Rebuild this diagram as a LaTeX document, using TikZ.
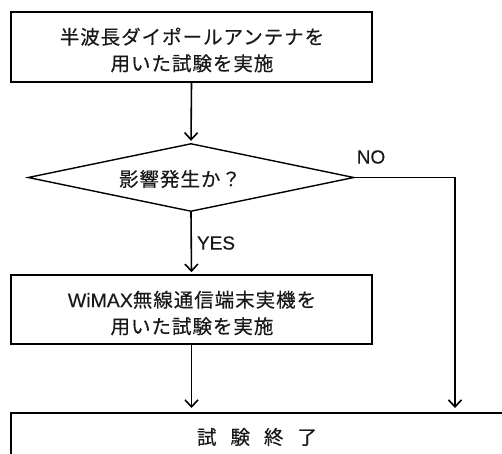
\documentclass[tikz,border=0pt]{standalone}
\usepackage{fontspec}
\usetikzlibrary{arrows.meta,shapes.geometric}
\newfontfamily\jpfont[LetterSpace=5,FakeBold=0.4]{Noto Sans CJK JP}
\newfontfamily\latfont[FakeBold=0.3]{Liberation Sans}
\tikzset{
  box/.style={draw, rectangle, inner sep=0pt, line width=1.6pt},
  decision/.style={draw, diamond, inner sep=0pt, line width=1.4pt, minimum width=326pt, minimum height=68pt},
  jtext/.style={font=\fontsize{19.5pt}{26.5pt}\selectfont\jpfont, align=center, inner sep=0pt, text=black!90},
  ltext/.style={font=\fontsize{19pt}{22pt}\selectfont\latfont, inner sep=0pt, text=black!90},
  arr/.style={-{Straight Barb[length=7pt,width=13pt]}, line width=1.6pt},
}
\begin{document}
\begin{tikzpicture}[x=1pt,y=-1pt]
\useasboundingbox (0,0) rectangle (502,453);
\clip (0,0) rectangle (502,453);
\node[box, minimum width=361pt, minimum height=70pt] (b1) at (191.5,47) {};
\node[jtext] (t1) at (192,50) {半波長ダイポールアンテナを\\用いた試験を実施};
\node[decision] (d) at (191,177.5) {};
\node[jtext] (td) at (180,179) {影響発生か？};
\node[box, minimum width=361pt, minimum height=69pt] (b2) at (191.5,309.5) {};
\node[jtext] (t2) at (192,313) {{\latfont WiMAX}無線通信端末実機を\\用いた試験を実施};
\node[box, anchor=north west, minimum width=494pt, minimum height=56pt] (e) at (10,412) {};
\node[jtext] (te) at (257,437) {試\hspace{14pt}験\hspace{14pt}終\hspace{14pt}了};
\node[ltext] (no) at (371,157) {NO};
\node[ltext] (yes) at (216,243) {YES};
\coordinate (nc) at (455,177.5);
\draw[arr, shorten >=2pt] (b1.south) -- (d.north);
\draw[arr, shorten >=2pt] (d.south) -- (b2.north);
\draw[arr, shorten >=4pt] (b2.south) -- (b2.south |- e.north);
\draw[arr, shorten >=4pt] (d.east) -- (nc) -- (nc |- e.north);
\end{tikzpicture}
\end{document}
